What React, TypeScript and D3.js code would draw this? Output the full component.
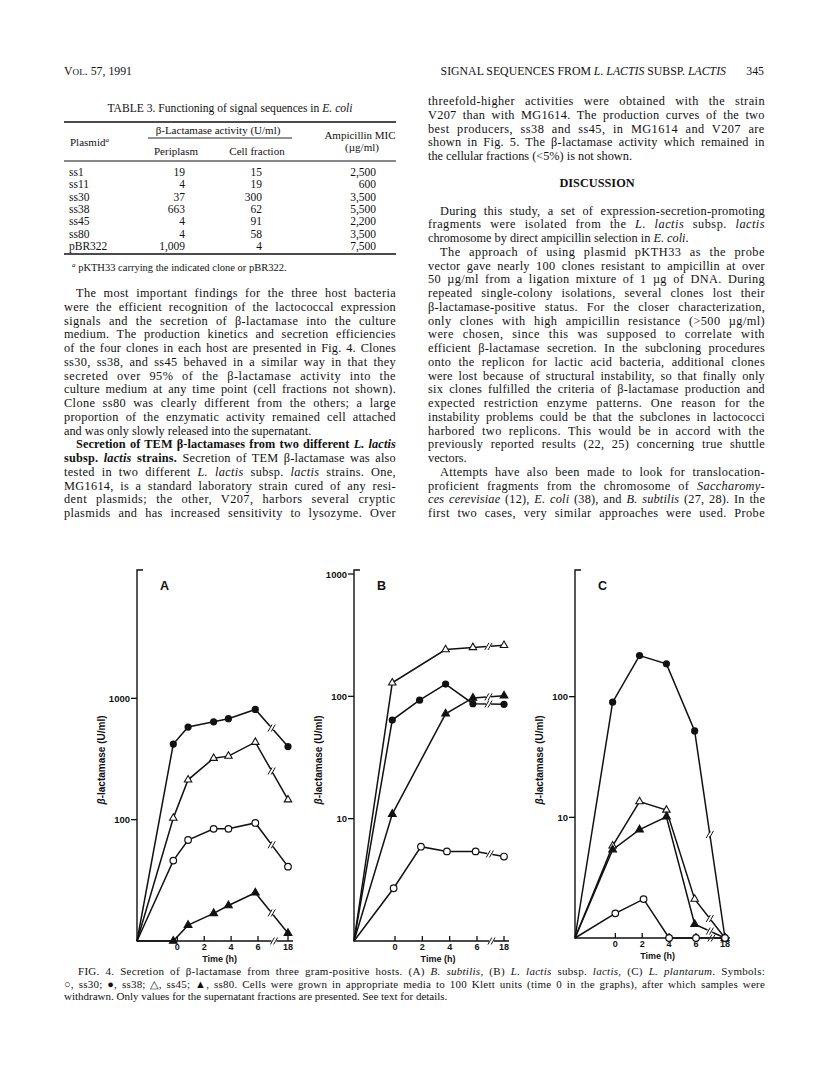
import React from "react";
import * as d3 from "d3";

// ---- table 3 ----
const plasmids = ["ss1", "ss11", "ss30", "ss38", "ss45", "ss80", "pBR322"];
const periplasm = ["19", "4", "37", "663", "4", "4", "1,009"];
const cellFraction = ["15", "19", "300", "62", "91", "58", "4"];
const ampMic = ["2,500", "600", "3,500", "5,500", "2,200", "3,500", "7,500"];

// ---- fig 4 data (beta-lactamase U/ml vs time h) ----
const timeTicks = [0, 2, 4, 6, 18];
const startTime = -3;

const timesA = [-0.3, 0.8, 2.7, 3.8, 5.8, 18];
const aSs30 = [46, 68, 84, 84, 94, 41];
const aSs38 = [420, 580, 640, 680, 810, 400];
const aSs45 = [103, 213, 321, 334, 435, 146];
const aSs80 = [10, 13.5, 16.9, 19.6, 25, 11.6];

const timesB30 = [-0.1, 1.9, 3.8, 5.9, 18];
const bSs30 = [2.7, 5.9, 5.4, 5.4, 4.9];
const timesB38 = [-0.2, 1.8, 3.7, 5.7, 18];
const bSs38 = [64, 93, 126, 87, 86];
const timesB45 = [-0.2, 3.7, 5.7, 18];
const bSs45 = [129, 241, 251, 261];
const timesB80 = [-0.2, 3.7, 5.7, 18];
const bSs80 = [10.9, 72, 97, 101];

const timesC = [-0.2, 1.8, 3.8, 5.9, 18];
const timesC30 = [0, 2.1, 4, 6, 18];
const cSs30 = [1.6, 2.1, 1, 1, 1];
const cSs38 = [90, 219, 187, 52, 1];
const cSs45 = [5.8, 13.5, 11.5, 2.1, 1];
const cSs80 = [5.4, 7.9, 10.1, 1.3, 1];

// ---- page text ----
const leftText = [
  "~The most important findings for the three host bacteria",
  "were the efficient recognition of the lactococcal expression",
  "signals and the secretion of β-lactamase into the culture",
  "medium. The production kinetics and secretion efficiencies",
  "of the four clones in each host are presented in Fig. 4. Clones",
  "ss30, ss38, and ss45 behaved in a similar way in that they",
  "secreted over 95% of the β-lactamase activity into the",
  "culture medium at any time point (cell fractions not shown).",
  "Clone ss80 was clearly different from the others; a large",
  "proportion of the enzymatic activity remained cell attached",
  "and was only slowly released into the supernatant.|",
  "~*Secretion of TEM β-lactamases from two different _L. lactis_*",
  "*subsp. _lactis_ strains.* Secretion of TEM β-lactamase was also",
  "tested in two different _L. lactis_ subsp. _lactis_ strains. One,",
  "MG1614, is a standard laboratory strain cured of any resi-",
  "dent plasmids; the other, V207, harbors several cryptic",
  "plasmids and has increased sensitivity to lysozyme. Over",
];

const rightTop = [
  "threefold-higher activities were obtained with the strain",
  "V207 than with MG1614. The production curves of the two",
  "best producers, ss38 and ss45, in MG1614 and V207 are",
  "shown in Fig. 5. The β-lactamase activity which remained in",
  "the cellular fractions (<5%) is not shown.|",
];

const rightText = [
  "~During this study, a set of expression-secretion-promoting",
  "fragments were isolated from the _L. lactis_ subsp. _lactis_",
  "chromosome by direct ampicillin selection in _E. coli_.|",
  "~The approach of using plasmid pKTH33 as the probe",
  "vector gave nearly 100 clones resistant to ampicillin at over",
  "50 µg/ml from a ligation mixture of 1 µg of DNA. During",
  "repeated single-colony isolations, several clones lost their",
  "β-lactamase-positive status. For the closer characterization,",
  "only clones with high ampicillin resistance (>500 µg/ml)",
  "were chosen, since this was supposed to correlate with",
  "efficient β-lactamase secretion. In the subcloning procedures",
  "onto the replicon for lactic acid bacteria, additional clones",
  "were lost because of structural instability, so that finally only",
  "six clones fulfilled the criteria of β-lactamase production and",
  "expected restriction enzyme patterns. One reason for the",
  "instability problems could be that the subclones in lactococci",
  "harbored two replicons. This would be in accord with the",
  "previously reported results (22, 25) concerning true shuttle",
  "vectors.|",
  "~Attempts have also been made to look for translocation-",
  "proficient fragments from the chromosome of _Saccharomy-_",
  "_ces cerevisiae_ (12), _E. coli_ (38), and _B. subtilis_ (27, 28). In the",
  "first two cases, very similar approaches were used. Probe",
];

const captionText = [
  "~FIG. 4. Secretion of β-lactamase from three gram-positive hosts. (A) _B. subtilis_, (B) _L. lactis_ subsp. _lactis_, (C) _L. plantarum_. Symbols:",
  "○, ss30; ●, ss38; △, ss45; ▲, ss80. Cells were grown in appropriate media to 100 Klett units (time 0 in the graphs), after which samples were",
  "withdrawn. Only values for the supernatant fractions are presented. See text for details.|",
];

const serif = "'Liberation Serif', 'Times New Roman', serif";
const sans = "'Liberation Sans', Arial, sans-serif";

// * toggles bold, _ toggles italic
const parseLine = (s) => {
  const out = [];
  let b = false,
    i = false,
    cur = "";
  for (const ch of s) {
    if (ch === "*" || ch === "_") {
      if (cur) out.push({ t: cur, b, i });
      cur = "";
      if (ch === "*") b = !b;
      else i = !i;
    } else cur += ch;
  }
  if (cur) out.push({ t: cur, b, i });
  return out;
};

let ctx = null;
const measure = (segs, size) => {
  if (!ctx) ctx = document.createElement("canvas").getContext("2d");
  let w = 0;
  segs.forEach((g) => {
    ctx.font = `${g.i ? "italic " : ""}${g.b ? "bold " : ""}${size}px "Liberation Serif"`;
    w += ctx.measureText(g.t).width;
  });
  return w;
};

const TextLine = ({ s, x0, x1, y, size, indent }) => {
  let str = s,
    ind = 0,
    justify = true;
  if (str.startsWith("~")) {
    ind = indent;
    str = str.slice(1);
  }
  if (str.endsWith("|")) {
    justify = false;
    str = str.slice(0, -1);
  }
  const segs = parseLine(str);
  let ws = 0,
    ls = 0;
  if (justify) {
    const spaces = segs.reduce((n, g) => n + (g.t.match(/ /g) || []).length, 0);
    const chars = segs.reduce((n, g) => n + g.t.length, 0);
    const extra = x1 - x0 - ind - measure(segs, size);
    if (extra > 0 && spaces) {
      ls = (extra * 0.4) / chars;
      ws = (extra - ls * chars) / spaces;
    } else ls = extra / chars;
  }
  return (
    <text
      x={x0 + ind}
      y={y}
      fontSize={size}
      fontFamily={serif}
      style={{ wordSpacing: `${ws}px`, letterSpacing: `${ls}px` }}
    >
      {segs.map((g, k) => (
        <tspan key={k} fontWeight={g.b ? "bold" : "normal"} fontStyle={g.i ? "italic" : "normal"}>
          {g.t}
        </tspan>
      ))}
    </text>
  );
};

const Marker = ({ kind, cx, cy }) => {
  if (kind === "ss30") return <circle cx={cx} cy={cy} r={3.3} fill="#fff" stroke="#111" strokeWidth={1.2} />;
  if (kind === "ss38") return <circle cx={cx} cy={cy} r={3.6} fill="#111" />;
  const p = d3.symbol(d3.symbolTriangle, kind === "ss45" ? 24 : 26)();
  return (
    <path
      d={p}
      transform={`translate(${cx},${cy})`}
      fill={kind === "ss45" ? "#fff" : "#111"}
      stroke="#111"
      strokeWidth={1.1}
    />
  );
};

const BreakMark = ({ mx, my }) => (
  <g stroke="#111" strokeWidth={1}>
    <line x1={mx - 2.5} y1={my} x2={mx + 2.5} y2={my} stroke="#fff" strokeWidth={3} />
    {[-1.6, 1.6].map((d) => (
      <line key={d} x1={mx + d - 2} y1={my + 3.5} x2={mx + d + 2} y2={my - 3.5} />
    ))}
  </g>
);

const panels = [
  {
    letter: "A",
    xr: [137, 258, 288],
    yd: [10, 10000],
    yr: [941, 577],
    yTicks: [100, 1000],
    series: [
      { name: "ss38", t: timesA, v: aSs38 },
      { name: "ss45", t: timesA, v: aSs45 },
      { name: "ss30", t: timesA, v: aSs30 },
      { name: "ss80", t: timesA, v: aSs80 },
    ],
  },
  {
    letter: "B",
    xr: [354, 477, 504],
    yd: [1, 1000],
    yr: [941, 574],
    yTicks: [10, 100, 1000],
    series: [
      { name: "ss45", t: timesB45, v: bSs45 },
      { name: "ss38", t: timesB38, v: bSs38 },
      { name: "ss80", t: timesB80, v: bSs80 },
      { name: "ss30", t: timesB30, v: bSs30 },
    ],
  },
  {
    letter: "C",
    xr: [575, 696, 725],
    yd: [1, 1000],
    yr: [938, 576],
    yTicks: [10, 100],
    series: [
      { name: "ss38", t: timesC, v: cSs38 },
      { name: "ss45", t: timesC, v: cSs45 },
      { name: "ss80", t: timesC, v: cSs80 },
      { name: "ss30", t: timesC30, v: cSs30 },
    ],
  },
];

const Panel = ({ cfg }) => {
  const x = d3.scaleLinear().domain([startTime, 6, 18]).range(cfg.xr);
  const y = d3.scaleLog().domain(cfg.yd).range(cfg.yr);
  const x0 = x(startTime);
  const yb = y(cfg.yd[0]);
  const top = 570;
  const line = d3
    .line()
    .x((d) => x(d[0]))
    .y((d) => y(d[1]));
  const xEnd = x(18) + 5;
  const axisBreak = (x(6) + x(18)) / 2 + 1;
  return (
    <g>
      {/* axes */}
      <path d={`M${x0 + 6},${top}H${x0}V${yb}H${xEnd}`} fill="none" stroke="#111" strokeWidth={1.4} />
      <BreakMark mx={axisBreak} my={yb} />
      {cfg.yTicks.map((v) => (
        <g key={v}>
          <line x1={x0 - 6} x2={x0} y1={y(v)} y2={y(v)} stroke="#111" strokeWidth={1.3} />
          <text x={x0 - 7} y={y(v) + 3.5} textAnchor="end" fontFamily={sans} fontWeight="bold" fontSize={9.5}>
            {v}
          </text>
        </g>
      ))}
      {timeTicks.map((t) => (
        <g key={t}>
          <line x1={x(t)} x2={x(t)} y1={yb} y2={yb - 5} stroke="#111" strokeWidth={1.3} />
          <text x={x(t)} y={yb + 9} textAnchor="middle" fontFamily={sans} fontWeight="bold" fontSize={9}>
            {t}
          </text>
        </g>
      ))}
      <text
        x={(x(0) + x(6)) / 2 + 2}
        y={yb + 21}
        textAnchor="middle"
        fontFamily={sans}
        fontWeight="bold"
        fontSize={9}
      >
        Time (h)
      </text>
      <text
        transform={`translate(${x0 - 32},760) rotate(-90)`}
        textAnchor="middle"
        fontFamily={sans}
        fontWeight="bold"
        fontSize={10}
      >
        <tspan fontStyle="italic">β</tspan>-lactamase (U/ml)
      </text>
      <text x={x0 + 23} y={590} fontFamily={sans} fontWeight="bold" fontSize={12.5}>
        {cfg.letter}
      </text>
      {/* curves */}
      {cfg.series.map((s) => {
        const pts = [[startTime, cfg.yd[0]], ...s.t.map((t, i) => [t, s.v[i]])];
        return <path key={s.name} d={line(pts)} fill="none" stroke="#111" strokeWidth={1.5} />;
      })}
      {cfg.series.map((s) => {
        const n = s.t.length;
        const a = [x(s.t[n - 2]), y(s.v[n - 2])];
        const b = [x(s.t[n - 1]), y(s.v[n - 1])];
        if (Math.abs(a[1] - yb) < 1 && Math.abs(b[1] - yb) < 1) return null;
        return <BreakMark key={s.name} mx={(a[0] + b[0]) / 2} my={(a[1] + b[1]) / 2} />;
      })}
      {cfg.series.map((s) =>
        s.t.map((t, i) => <Marker key={s.name + i} kind={s.name} cx={x(t)} cy={y(s.v[i])} />)
      )}
    </g>
  );
};

const App = () => {
  const rowY = (i) => 176 + i * 12.3;
  return (
    <svg
      width={816}
      height={1081}
      style={{ position: "absolute", left: 0, top: 0, background: "#fff" }}
      fill="#111"
    >
      <rect width={816} height={1081} fill="#fff" />
      {/* running head */}
      <text x={64} y={75} fontFamily={serif} fontSize={11.8}>
        V<tspan fontSize={9.2}>OL</tspan>. 57, 1991
      </text>
      <text x={726} y={75} textAnchor="end" fontFamily={serif} fontSize={11.8}>
        SIGNAL SEQUENCES FROM <tspan fontStyle="italic">L. LACTIS</tspan> SUBSP.{" "}
        <tspan fontStyle="italic">LACTIS</tspan>
      </text>
      <text x={764} y={75} textAnchor="end" fontFamily={serif} fontSize={11.8}>
        345
      </text>

      {/* table */}
      <text x={230} y={112} textAnchor="middle" fontFamily={serif} fontSize={11.6}>
        TABLE 3. Functioning of signal sequences in <tspan fontStyle="italic">E. coli</tspan>
      </text>
      <line x1={64} x2={396} y1={122} y2={122} stroke="#111" strokeWidth={1.4} />
      <text x={70} y={146} fontFamily={serif} fontSize={11}>
        Plasmid<tspan fontSize={7} fontStyle="italic" dy={-4}>a</tspan>
      </text>
      <text x={218} y={134} textAnchor="middle" fontFamily={serif} fontSize={11}>
        β-Lactamase activity (U/ml)
      </text>
      <line x1={148} x2={292} y1={138} y2={138} stroke="#111" strokeWidth={0.9} />
      <text x={176} y={155} textAnchor="middle" fontFamily={serif} fontSize={11}>
        Periplasm
      </text>
      <text x={257} y={155} textAnchor="middle" fontFamily={serif} fontSize={11}>
        Cell fraction
      </text>
      <text x={360} y={139} textAnchor="middle" fontFamily={serif} fontSize={11}>
        Ampicillin MIC
      </text>
      <text x={362} y={151} textAnchor="middle" fontFamily={serif} fontSize={11}>
        (µg/ml)
      </text>
      <line x1={64} x2={396} y1={161} y2={161} stroke="#111" strokeWidth={1} />
      {plasmids.map((p, i) => (
        <g key={p} fontFamily={serif} fontSize={11.5}>
          <text x={69} y={rowY(i)}>
            {p}
          </text>
          <text x={185} y={rowY(i)} textAnchor="end">
            {periplasm[i]}
          </text>
          <text x={262} y={rowY(i)} textAnchor="end">
            {cellFraction[i]}
          </text>
          <text x={376} y={rowY(i)} textAnchor="end">
            {ampMic[i]}
          </text>
        </g>
      ))}
      <line x1={64} x2={396} y1={254} y2={254} stroke="#111" strokeWidth={1.3} />
      <text x={72} y={271} fontFamily={serif} fontSize={10.5}>
        <tspan fontSize={7} fontStyle="italic" dy={-4}>a</tspan>
        <tspan dy={4}> pKTH33 carrying the indicated clone or pBR322.</tspan>
      </text>

      {/* left column text */}
      {leftText.map((s, i) => (
        <TextLine key={i} s={s} x0={64} x1={396} y={297 + i * 13.75} size={12.3} indent={12} />
      ))}
      {/* right column text */}
      {rightTop.map((s, i) => (
        <TextLine key={i} s={s} x0={428} x1={765} y={105 + i * 13.75} size={12.3} indent={12} />
      ))}
      <text x={597} y={187} textAnchor="middle" fontFamily={serif} fontWeight="bold" fontSize={12.3}>
        DISCUSSION
      </text>
      {rightText.map((s, i) => (
        <TextLine key={i} s={s} x0={428} x1={765} y={214.5 + i * 13.75} size={12.3} indent={12} />
      ))}

      {/* figure */}
      {panels.map((p) => (
        <Panel key={p.letter} cfg={p} />
      ))}

      {/* caption */}
      {captionText.map((s, i) => (
        <TextLine key={i} s={s} x0={64} x1={765} y={975 + i * 12.6} size={11} indent={14} />
      ))}
    </svg>
  );
};

export default App;
